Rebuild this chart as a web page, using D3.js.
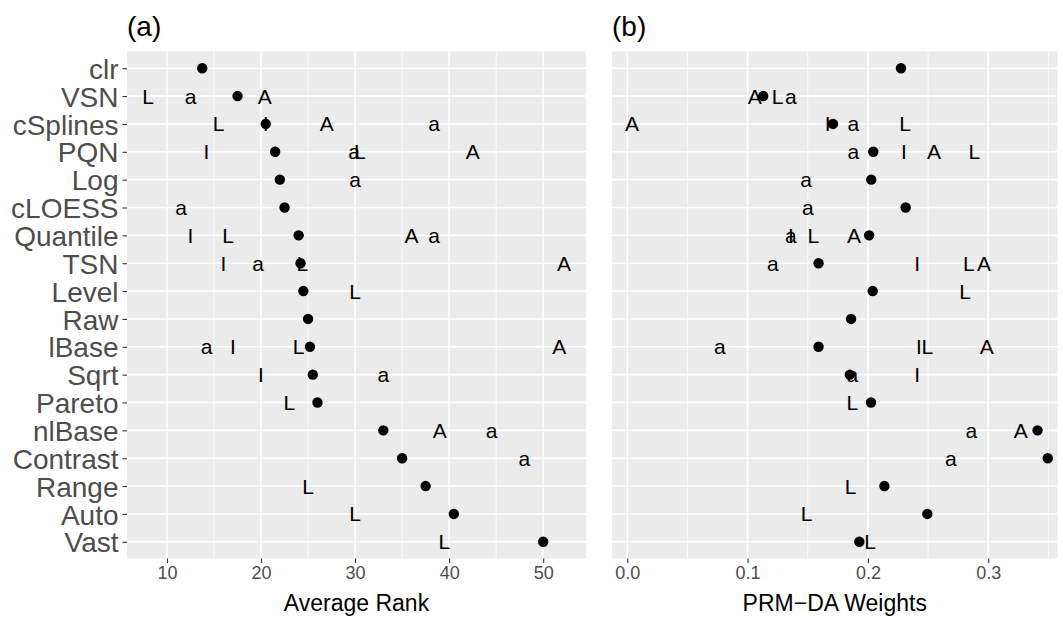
<!DOCTYPE html>
<html>
<head>
<meta charset="utf-8">
<script src="https://cdn.jsdelivr.net/npm/d3@7"></script>
<style>
  body { margin: 0; background: #fff; }
  svg { font-family: "Liberation Sans", Arial, sans-serif; }
</style>
</head>
<body>
<svg id="chart"></svg>
<script>
// categories, top to bottom
const methods = ["clr", "VSN", "cSplines", "PQN", "Log", "cLOESS", "Quantile", "TSN", "Level",
  "Raw", "lBase", "Sqrt", "Pareto", "nlBase", "Contrast", "Range", "Auto", "Vast"];

// (a) average rank: dot + letter marks
const avgRank = [13.75, 17.5, 20.5, 21.5, 22.0, 22.5, 24.0, 24.2, 24.5, 25.0, 25.2, 25.5, 26.0, 33.0, 35.0, 37.5, 40.5, 50.0];
const rankA = [null, 20.4, 27.0, 42.5, null, null, 36.0, 52.2, null, null, 51.7, null, null, 39.0, null, null, null, null];
const rankL = [null, 8.0, 15.5, 30.5, null, null, 16.5, 24.4, 30.0, null, 24.0, null, 23.0, null, null, 25.0, 30.0, 39.5];
const rankLowA = [null, 12.5, 38.4, 29.9, 30.0, 11.5, 38.4, 19.7, null, null, 14.2, 33.0, null, 44.5, 48.0, null, null, null];
const rankI = [null, null, 20.5, 14.2, null, null, 12.5, 16.0, null, null, 17.0, 20.0, null, null, null, null, null, null];

// (b) PRM-DA weights
const weight = [0.2275, 0.113, 0.171, 0.2045, 0.2028, 0.2314, 0.201, 0.159, 0.204, 0.186, 0.159, 0.185, 0.2026, 0.341, 0.3495, 0.2137, 0.2494, 0.1929];
const weightA = [null, 0.106, 0.004, 0.255, null, null, 0.1885, 0.2965, null, null, 0.2987, null, null, 0.327, null, null, null, null];
const weightL = [null, 0.125, 0.231, 0.2885, null, null, 0.1546, 0.284, 0.2807, null, 0.2494, null, 0.187, null, null, 0.1857, 0.149, 0.2018];
const weightLowA = [null, 0.136, 0.188, 0.188, 0.1486, 0.150, 0.136, 0.121, null, null, 0.077, 0.187, null, 0.286, 0.269, null, null, null];
const weightI = [null, null, 0.1666, 0.230, null, null, 0.136, 0.241, null, null, 0.2425, 0.241, null, null, null, null, null, null];

const rankTicks = [10, 20, 30, 40, 50];
const rankMinor = [15, 25, 35, 45];
const weightTicks = [0, 0.1, 0.2, 0.3];
const weightMinor = [0.05, 0.15, 0.25, 0.35];

const width = 1063, height = 617;
const panelTop = 51.5, panelBottom = 558.5;

const svg = d3.select("#chart").attr("width", width).attr("height", height);
svg.append("rect").attr("width", width).attr("height", height).attr("fill", "#fff");

const y = d3.scalePoint().domain(methods).range([panelTop, panelBottom]).padding(0.6);

function panel(opts) {
  const x = d3.scaleLinear().domain(opts.domain).range([opts.x0, opts.x1]);
  const g = svg.append("g");

  g.append("rect")
    .attr("x", opts.x0).attr("y", panelTop)
    .attr("width", opts.x1 - opts.x0).attr("height", panelBottom - panelTop)
    .attr("fill", "#EBEBEB");

  // minor grid
  g.selectAll(".minor").data(opts.minor).enter().append("line")
    .attr("x1", d => x(d)).attr("x2", d => x(d))
    .attr("y1", panelTop).attr("y2", panelBottom)
    .attr("stroke", "#fff").attr("stroke-width", 0.8);

  // major grid
  g.selectAll(".majorx").data(opts.ticks).enter().append("line")
    .attr("x1", d => x(d)).attr("x2", d => x(d))
    .attr("y1", panelTop).attr("y2", panelBottom)
    .attr("stroke", "#fff").attr("stroke-width", 1.6);
  g.selectAll(".majory").data(methods).enter().append("line")
    .attr("x1", opts.x0).attr("x2", opts.x1)
    .attr("y1", d => y(d)).attr("y2", d => y(d))
    .attr("stroke", "#fff").attr("stroke-width", 1.6);

  // x axis
  const ax = g.append("g")
    .attr("transform", `translate(0,${panelBottom})`)
    .call(d3.axisBottom(x).tickValues(opts.ticks).tickFormat(opts.fmt).tickSize(4.5).tickPadding(3));
  ax.select(".domain").remove();
  ax.selectAll(".tick line").attr("stroke", "#333").attr("stroke-width", 1.1);
  ax.selectAll(".tick text").attr("fill", "#4D4D4D").style("font-size", "18px");

  g.append("text")
    .attr("x", (opts.x0 + opts.x1) / 2).attr("y", 610.5)
    .attr("text-anchor", "middle").style("font-size", "23px").attr("fill", "#000")
    .text(opts.xlab);

  g.append("text")
    .attr("x", opts.x0).attr("y", 35.5)
    .style("font-size", "28px").attr("fill", "#000")
    .text(opts.title);

  // letter marks
  opts.letters.forEach(([ch, vals]) => {
    const pts = methods.map((m, i) => ({ m, v: vals[i] })).filter(d => d.v != null);
    g.selectAll(null).data(pts).enter().append("text")
      .attr("x", d => x(d.v)).attr("y", d => y(d.m))
      .attr("dy", "0.36em").attr("text-anchor", "middle")
      .style("font-size", "21px").attr("fill", "#000")
      .text(ch);
  });

  // dots
  g.selectAll(null).data(methods.map((m, i) => ({ m, v: opts.dots[i] }))).enter().append("circle")
    .attr("cx", d => x(d.v)).attr("cy", d => y(d.m))
    .attr("r", 5.2).attr("fill", "#000");

  return g;
}

const left = panel({
  x0: 127, x1: 586, domain: [5.75, 54.55],
  ticks: rankTicks, minor: rankMinor, fmt: d3.format("d"),
  xlab: "Average Rank", title: "(a)", dots: avgRank,
  letters: [["A", rankA], ["L", rankL], ["a", rankLowA], ["I", rankI]]
});

panel({
  x0: 612, x1: 1057.5, domain: [-0.0127, 0.3576],
  ticks: weightTicks, minor: weightMinor, fmt: d3.format(".1f"),
  xlab: "PRM\u2212DA Weights", title: "(b)", dots: weight,
  letters: [["A", weightA], ["L", weightL], ["a", weightLowA], ["I", weightI]]
});

// y axis on the left panel only
const ay = left.append("g")
  .attr("transform", "translate(127,0)")
  .call(d3.axisLeft(y).tickSize(4.5).tickPadding(4));
ay.select(".domain").remove();
ay.selectAll(".tick line").attr("stroke", "#333").attr("stroke-width", 1.1);
ay.selectAll(".tick text").attr("fill", "#4D4D4D").style("font-size", "28px").attr("dy", "0.36em");
</script>
</body>
</html>
